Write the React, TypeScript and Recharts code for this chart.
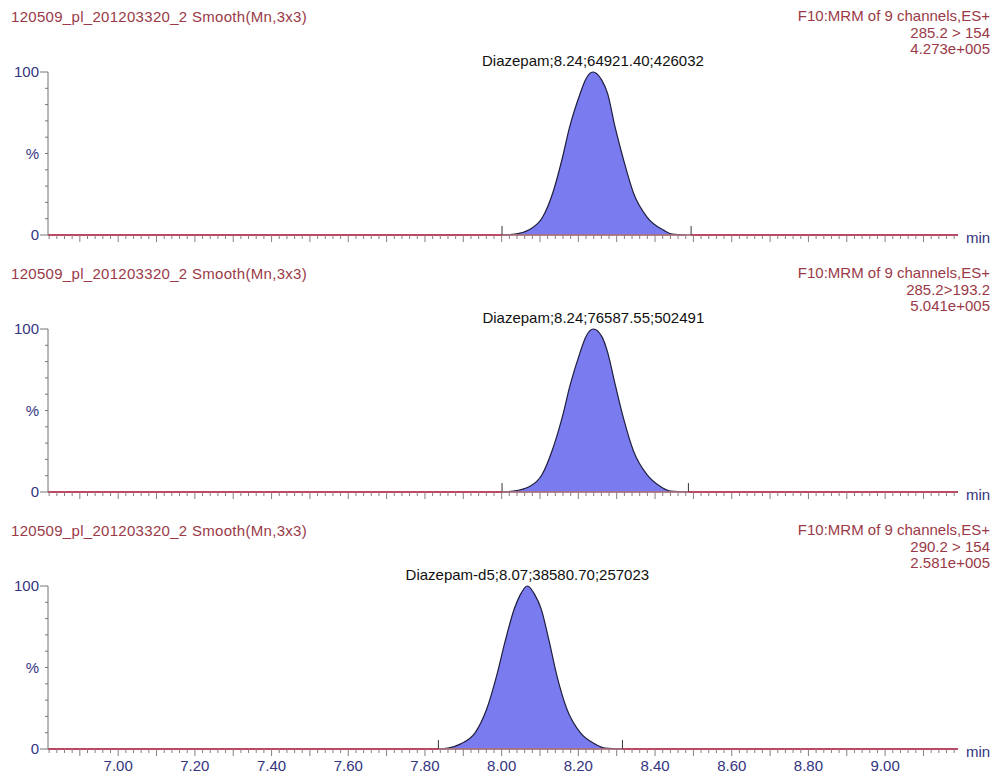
import React from 'react';
import { ComposedChart, Area, Line, XAxis, YAxis, ReferenceLine, ReferenceDot } from 'recharts';

const FONT = '"Liberation Sans", Arial, Helvetica, sans-serif';
const RED_TEXT = '#9a3a48';
const NAVY = '#34347f';

// ---- texts ----
const SAMPLE_NAMES = [
  '120509_pl_201203320_2 Smooth(Mn,3x3)',
  '120509_pl_201203320_2 Smooth(Mn,3x3)',
  '120509_pl_201203320_2 Smooth(Mn,3x3)',
];
const FUNCTION_NAMES = ['F10:MRM of 9 channels,ES+', 'F10:MRM of 9 channels,ES+', 'F10:MRM of 9 channels,ES+'];
const TRANSITIONS = ['285.2 > 154', '285.2>193.2', '290.2 > 154'];
const MAX_INTENSITIES = ['4.273e+005', '5.041e+005', '2.581e+005'];
const PEAK_LABELS = [
  'Diazepam;8.24;64921.40;426032',
  'Diazepam;8.24;76587.55;502491',
  'Diazepam-d5;8.07;38580.70;257023',
];
const APEX_TIMES = [8.238, 8.239, 8.067];

// ---- axis ----
const X_DOMAIN: [number, number] = [6.817, 9.19];
const X_TICK_LABELS = ['7.00', '7.20', '7.40', '7.60', '7.80', '8.00', '8.20', '8.40', '8.60', '8.80', '9.00'];
const Y_TICKS = [0, 10, 20, 30, 40, 50, 60, 70, 80, 90, 100];
const Y_LABEL_VALUES = [0, 50, 100];
const Y_LABEL_TEXT = ['0', '%', '100'];

// ---- peak traces (time in min, intensity in %) ----
const TIMES_1 = [8.0, 8.035, 8.07, 8.107, 8.133, 8.157, 8.177, 8.205, 8.218, 8.238, 8.261, 8.276, 8.296, 8.318, 8.344, 8.379, 8.422, 8.445, 8.48];
const VALUES_1 = [0, 0.5, 3, 11, 25.6, 46, 66, 87, 95, 100, 95, 87, 66, 46, 25.6, 11, 3, 0.5, 0];
const MARKERS_1 = [8.001, 8.494];

const TIMES_2 = [8.0, 8.03, 8.074, 8.105, 8.131, 8.157, 8.179, 8.205, 8.219, 8.239, 8.262, 8.276, 8.296, 8.318, 8.344, 8.379, 8.413, 8.44, 8.487];
const VALUES_2 = [0, 0.5, 3.5, 10.6, 25, 45, 66, 86, 95, 100, 95, 86, 66, 45, 25, 10.6, 3.5, 0.6, 0];
const MARKERS_2 = [8.001, 8.487];

const TIMES_3 = [7.835, 7.86, 7.892, 7.931, 7.961, 7.987, 8.009, 8.033, 8.048, 8.067, 8.087, 8.103, 8.124, 8.144, 8.17, 8.205, 8.244, 8.27, 8.315];
const VALUES_3 = [0, 0.5, 3, 10, 24.5, 45, 66, 86, 94.4, 100, 94.4, 86, 66, 45, 24.5, 10, 3, 0.5, 0];
const MARKERS_3 = [7.835, 8.315];

const PANEL_TIMES = [TIMES_1, TIMES_2, TIMES_3];
const PANEL_VALUES = [VALUES_1, VALUES_2, VALUES_3];
const PANEL_MARKERS = [MARKERS_1, MARKERS_2, MARKERS_3];

// minor ticks every 0.02 min
const X_TICKS: number[] = [];
for (let k = 682; k <= 918; k += 2) X_TICKS.push(k / 100);

type Row = { t: number; trace: number | null; peak: number | null };

function buildRows(times: number[], values: number[], markers: number[]) {
  const rows: Row[] = [];
  rows.push({ t: X_DOMAIN[0], trace: 0, peak: null });
  rows.push({ t: markers[0], trace: 0, peak: null });
  times.forEach((t, i) => {
    const outside = t <= markers[0] || t >= markers[1];
    rows.push({ t, trace: outside ? values[i] : null, peak: values[i] });
  });
  rows.push({ t: markers[1], trace: 0, peak: null });
  rows.push({ t: X_DOMAIN[1], trace: 0, peak: null });
  rows.sort((a, b) => a.t - b.t);
  return rows;
}

function XTick(props: any) {
  const { x, y, payload, showLabels } = props;
  const v = payload.value as number;
  const k = Math.round(v * 100);
  const tenth = k % 10 === 0;
  const label = v.toFixed(2);
  const show = showLabels && X_TICK_LABELS.includes(label);
  return (
    <g>
      <line x1={x} x2={x} y1={y} y2={y + (tenth ? 7 : 4)} stroke="#8c7c80" strokeWidth={1} />
      {show && (
        <text x={x} y={y + 22} textAnchor="middle" fontSize={15} fill={NAVY} fontFamily={FONT}>
          {label}
        </text>
      )}
    </g>
  );
}

function YTick(props: any) {
  const { x, y, payload } = props;
  const v = payload.value as number;
  const idx = Y_LABEL_VALUES.indexOf(v);
  const major = v === 0 || v === 100;
  return (
    <g>
      <line x1={x - (major ? 8 : 3)} x2={x} y1={y} y2={y} stroke="#777" strokeWidth={1} />
      {idx >= 0 && (
        <text x={x - 9} y={y} dy="0.35em" textAnchor="end" fontSize={15} fill={NAVY} fontFamily={FONT}>
          {Y_LABEL_TEXT[idx]}
        </text>
      )}
    </g>
  );
}

const PANEL_TOPS = [0, 257, 514];

function Panel({ i }: { i: number }) {
  const markers = PANEL_MARKERS[i];
  const rows = buildRows(PANEL_TIMES[i], PANEL_VALUES[i], markers);
  const last = i === 2;
  const height = last ? 260 : 257;
  const axisH = last ? 25 : 22;
  return (
    <div style={{ position: 'absolute', left: 0, top: PANEL_TOPS[i], width: 993, height }}>
      <div style={{ position: 'absolute', left: 11, top: 8, fontSize: 15, letterSpacing: 0.3, lineHeight: '17px', color: RED_TEXT, fontFamily: FONT, whiteSpace: 'nowrap' }}>
        {SAMPLE_NAMES[i]}
      </div>
      <div style={{ position: 'absolute', right: 3, top: 8, fontSize: 15, lineHeight: '16.7px', color: RED_TEXT, fontFamily: FONT, textAlign: 'right', whiteSpace: 'nowrap' }}>
        <div>{FUNCTION_NAMES[i]}</div>
        <div>{TRANSITIONS[i]}</div>
        <div>{MAX_INTENSITIES[i]}</div>
      </div>
      <div style={{ position: 'absolute', left: 966, top: 229, fontSize: 15, lineHeight: '17px', color: NAVY, fontFamily: FONT }}>
        min
      </div>
      <div style={{ position: 'absolute', left: 0, top: 0 }}>
        <ComposedChart width={993} height={height} data={rows} margin={{ top: 72, right: 35, bottom: 0, left: 0 }}>
          <XAxis
            dataKey="t"
            type="number"
            domain={X_DOMAIN}
            allowDataOverflow
            ticks={X_TICKS}
            interval={0}
            tickSize={0}
            tickMargin={0}
            tickLine={false}
            height={axisH}
            axisLine={{ stroke: '#b04a60', strokeWidth: 1 }}
            tick={(p: any) => <XTick {...p} showLabels={last} />}
          />
          <YAxis
            type="number"
            domain={[0, 100]}
            ticks={Y_TICKS}
            interval={0}
            width={48}
            tickSize={0}
            tickMargin={0}
            tickLine={false}
            axisLine={{ stroke: '#707070', strokeWidth: 1 }}
            tick={(p: any) => <YTick {...p} />}
          />
          <Area
            dataKey="peak"
            type="monotone"
            stroke="#1e1e3e"
            strokeWidth={1.2}
            fill="#7b7bf0"
            fillOpacity={1}
            connectNulls
            isAnimationActive={false}
          />
          <Line
            dataKey="trace"
            type="linear"
            stroke="#c8466a"
            strokeWidth={2}
            dot={false}
            connectNulls={false}
            isAnimationActive={false}
          />
          <ReferenceLine
            segment={[{ x: markers[0], y: 0 }, { x: markers[1], y: 0 }]}
            stroke="#a0a0a0"
            strokeWidth={1.5}
          />
          {markers.map((m, j) => (
            <ReferenceLine key={j} segment={[{ x: m, y: 0 }, { x: m, y: 5.5 }]} stroke="#333" strokeWidth={1} />
          ))}
          <ReferenceDot
            x={APEX_TIMES[i]}
            y={100}
            r={0}
            shape={(p: any) => (
              <text x={p.cx} y={p.cy - 6} textAnchor="middle" fontSize={15} fill="#111" fontFamily={FONT}>
                {PEAK_LABELS[i]}
              </text>
            )}
          />
        </ComposedChart>
      </div>
    </div>
  );
}

export default function App() {
  return (
    <div style={{ position: 'absolute', left: 0, top: 0, width: 993, height: 774, background: '#fff', overflow: 'hidden' }}>
      <Panel i={0} />
      <Panel i={1} />
      <Panel i={2} />
    </div>
  );
}
